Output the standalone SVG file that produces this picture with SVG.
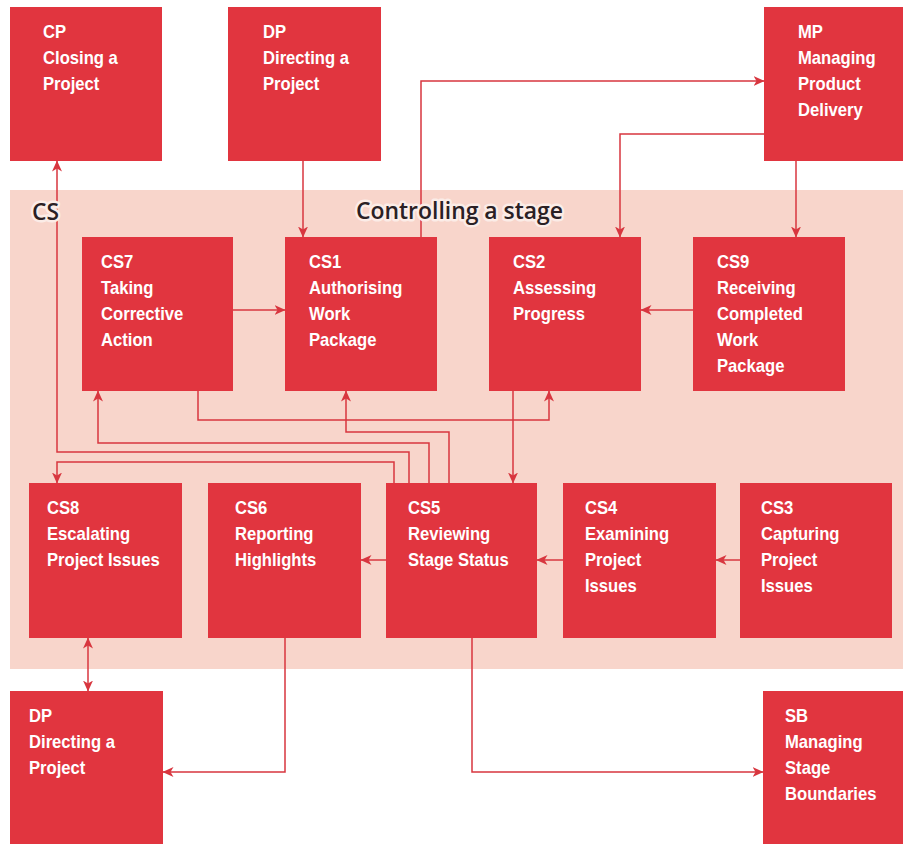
<svg xmlns="http://www.w3.org/2000/svg" width="903" height="844" viewBox="0 0 903 844">
  <style>
    .box { fill: #e1353f; }
    .band { fill: #f8d5cb; }
    .lbl { font-family: "Liberation Sans", Arial, sans-serif; font-weight: bold; font-size: 18.5px; fill: #ffffff; }
    .conn { fill: none; stroke: #d8363f; stroke-width: 1.5; }
    .title { font-family: "Open Sans", "Liberation Sans", sans-serif; font-weight: 600; font-size: 24px; fill: #2a2024; stroke: #fbece7; stroke-width: 5; stroke-linejoin: round; paint-order: stroke; }
  </style>
  <defs>
    <marker id="arrow" viewBox="0 0 11 10" markerWidth="11" markerHeight="10" refX="10.5" refY="5" orient="auto-start-reverse" markerUnits="userSpaceOnUse">
      <path d="M0,0 L11,5 L0,10 L3,5 Z" fill="#d8363f"/>
    </marker>
  </defs>

  <rect width="903" height="844" fill="#ffffff"/>

  <!-- Controlling a stage band -->
  <rect class="band" x="10" y="190" width="893" height="479"/>

  <!-- Outside processes -->
  <g id="cp">
    <rect class="box" x="10" y="7" width="152" height="154"/>
    <text class="lbl" transform="translate(43 38) scale(0.9 1)"><tspan x="0" y="0">CP</tspan><tspan x="0" dy="26">Closing a</tspan><tspan x="0" dy="26">Project</tspan></text>
  </g>
  <g id="dp-top">
    <rect class="box" x="228" y="7" width="153" height="154"/>
    <text class="lbl" transform="translate(263 38) scale(0.9 1)"><tspan x="0" y="0">DP</tspan><tspan x="0" dy="26">Directing a</tspan><tspan x="0" dy="26">Project</tspan></text>
  </g>
  <g id="mp">
    <rect class="box" x="764" y="7" width="139" height="154"/>
    <text class="lbl" transform="translate(798 38) scale(0.9 1)"><tspan x="0" y="0">MP</tspan><tspan x="0" dy="26">Managing</tspan><tspan x="0" dy="26">Product</tspan><tspan x="0" dy="26">Delivery</tspan></text>
  </g>

  <!-- Stage activities, upper row -->
  <g id="cs7">
    <rect class="box" x="82" y="237" width="151" height="154"/>
    <text class="lbl" transform="translate(101 268) scale(0.9 1)"><tspan x="0" y="0">CS7</tspan><tspan x="0" dy="26">Taking</tspan><tspan x="0" dy="26">Corrective</tspan><tspan x="0" dy="26">Action</tspan></text>
  </g>
  <g id="cs1">
    <rect class="box" x="285" y="237" width="152" height="154"/>
    <text class="lbl" transform="translate(309 268) scale(0.9 1)"><tspan x="0" y="0">CS1</tspan><tspan x="0" dy="26">Authorising</tspan><tspan x="0" dy="26">Work</tspan><tspan x="0" dy="26">Package</tspan></text>
  </g>
  <g id="cs2">
    <rect class="box" x="489" y="237" width="152" height="154"/>
    <text class="lbl" transform="translate(513 268) scale(0.9 1)"><tspan x="0" y="0">CS2</tspan><tspan x="0" dy="26">Assessing</tspan><tspan x="0" dy="26">Progress</tspan></text>
  </g>
  <g id="cs9">
    <rect class="box" x="693" y="237" width="152" height="154"/>
    <text class="lbl" transform="translate(717 268) scale(0.9 1)"><tspan x="0" y="0">CS9</tspan><tspan x="0" dy="26">Receiving</tspan><tspan x="0" dy="26">Completed</tspan><tspan x="0" dy="26">Work</tspan><tspan x="0" dy="26">Package</tspan></text>
  </g>

  <!-- Stage activities, lower row -->
  <g id="cs8">
    <rect class="box" x="29" y="483" width="153" height="155"/>
    <text class="lbl" transform="translate(47 514) scale(0.9 1)"><tspan x="0" y="0">CS8</tspan><tspan x="0" dy="26">Escalating</tspan><tspan x="0" dy="26">Project Issues</tspan></text>
  </g>
  <g id="cs6">
    <rect class="box" x="208" y="483" width="153" height="155"/>
    <text class="lbl" transform="translate(235 514) scale(0.9 1)"><tspan x="0" y="0">CS6</tspan><tspan x="0" dy="26">Reporting</tspan><tspan x="0" dy="26">Highlights</tspan></text>
  </g>
  <g id="cs5">
    <rect class="box" x="386" y="483" width="151" height="155"/>
    <text class="lbl" transform="translate(408 514) scale(0.9 1)"><tspan x="0" y="0">CS5</tspan><tspan x="0" dy="26">Reviewing</tspan><tspan x="0" dy="26">Stage Status</tspan></text>
  </g>
  <g id="cs4">
    <rect class="box" x="563" y="483" width="153" height="155"/>
    <text class="lbl" transform="translate(585 514) scale(0.9 1)"><tspan x="0" y="0">CS4</tspan><tspan x="0" dy="26">Examining</tspan><tspan x="0" dy="26">Project</tspan><tspan x="0" dy="26">Issues</tspan></text>
  </g>
  <g id="cs3">
    <rect class="box" x="740" y="483" width="152" height="155"/>
    <text class="lbl" transform="translate(761 514) scale(0.9 1)"><tspan x="0" y="0">CS3</tspan><tspan x="0" dy="26">Capturing</tspan><tspan x="0" dy="26">Project</tspan><tspan x="0" dy="26">Issues</tspan></text>
  </g>

  <!-- Outside processes, bottom -->
  <g id="dp-bottom">
    <rect class="box" x="10" y="691" width="153" height="153"/>
    <text class="lbl" transform="translate(29 722) scale(0.9 1)"><tspan x="0" y="0">DP</tspan><tspan x="0" dy="26">Directing a</tspan><tspan x="0" dy="26">Project</tspan></text>
  </g>
  <g id="sb">
    <rect class="box" x="763" y="691" width="140" height="153"/>
    <text class="lbl" transform="translate(785 722) scale(0.9 1)"><tspan x="0" y="0">SB</tspan><tspan x="0" dy="26">Managing</tspan><tspan x="0" dy="26">Stage</tspan><tspan x="0" dy="26">Boundaries</tspan></text>
  </g>

  <!-- Connectors -->
  <g id="connectors" class="conn" marker-end="url(#arrow)">
    <path d="M303,161 V237"/>
    <path d="M421,237 V81 H764"/>
    <path d="M764,134 H620 V237"/>
    <path d="M796,161 V237"/>
    <path d="M693,310 H641"/>
    <path d="M233,310 H285"/>
    <path d="M513,391 V483"/>
    <path d="M198,391 V420 H549 V391"/>
    <path d="M449,483 V432 H346 V391"/>
    <path d="M429,483 V443 H98 V391"/>
    <path d="M409,483 V452 H57 V161"/>
    <path d="M394,483 V462 H57 V483"/>
    <path d="M740,560 H716"/>
    <path d="M563,560 H537"/>
    <path d="M386,560 H361"/>
    <path d="M88,638 V691" marker-start="url(#arrow)"/>
    <path d="M285,638 V772 H163"/>
    <path d="M472,638 V772 H763"/>
  </g>

  <!-- Band labels, haloed over the connector lines -->
  <g id="band-labels">
    <text class="title" x="32" y="220" textLength="27" lengthAdjust="spacingAndGlyphs">CS</text>
    <text class="title" x="356" y="219" textLength="207" lengthAdjust="spacingAndGlyphs">Controlling a stage</text>
  </g>
</svg>
